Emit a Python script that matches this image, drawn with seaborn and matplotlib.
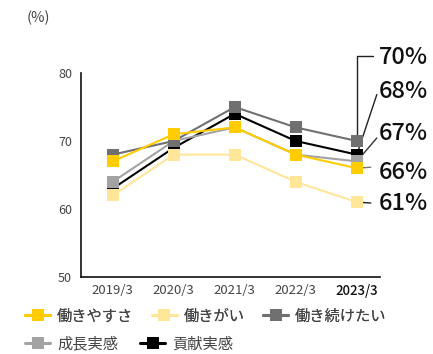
import matplotlib
matplotlib.use("Agg")
import matplotlib.pyplot as plt
import seaborn as sns
from matplotlib.lines import Line2D

sns.set_style("white")
plt.rcParams['font.family'] = ['Noto Sans CJK JP', 'DejaVu Sans']

years = ["2019/3", "2020/3", "2021/3", "2022/3", "2023/3"]
hatarakiyasusa = [67, 71, 72, 68, 66]
hatarakigai = [62, 68, 68, 64, 61]
hatarakitsuzuketai = [68, 70, 75, 72, 70]
seicho = [64, 70, 72, 68, 67]
koken = [63, 69, 74, 70, 68]
yticks = [50, 60, 70, 80]

names = ["働きやすさ", "働きがい", "働き続けたい", "成長実感", "貢献実感"]
colors = {"働きやすさ": "#FFCC00", "働きがい": "#FFE699", "働き続けたい": "#707070",
          "成長実感": "#A3A3A3", "貢献実感": "#000000"}
data = {"働きやすさ": hatarakiyasusa, "働きがい": hatarakigai, "働き続けたい": hatarakitsuzuketai,
        "成長実感": seicho, "貢献実感": koken}
draw_order = ["貢献実感", "成長実感", "働き続けたい", "働きやすさ", "働きがい"]

fig = plt.figure(figsize=(4.33, 3.54), dpi=100)
ax = fig.add_axes([81/433, 1-277/354, (380-81)/433, (277-73)/354])

for i, n in enumerate(draw_order):
    sns.lineplot(x=years, y=data[n], sort=False, color=colors[n], marker="s", markersize=8.5,
                 markeredgewidth=0, linewidth=1.5, ax=ax, zorder=3+i)

ax.set_xlim(-0.52, 4.38)
ax.set_ylim(50, 80)
ax.set_yticks(yticks)
ax.tick_params(axis="y", direction="in", length=11, width=1, color="#444444", pad=6.5,
               labelsize=9, labelcolor="#444444")
ax.tick_params(axis="x", length=0, pad=5, labelsize=9.5, labelcolor="#444444")
for lab in ax.get_xticklabels():
    if lab.get_text() == years[-1]:
        lab.set_color("#111111")
        lab.set_fontweight("medium")
for s in ["top", "right"]:
    ax.spines[s].set_visible(False)
for s in ["left", "bottom"]:
    ax.spines[s].set_color("#111111")
    ax.spines[s].set_linewidth(1.2)
ax.set_xlabel("")
ax.set_ylabel("")

fig.text(38/433, 1-18/354, "(%)", ha="center", va="center", fontsize=10.5, color="#444444")

# right-hand labels with leader lines (offsets in pixels -> points)
px = 0.72
last = len(years) - 1
labels = [
    ("働き続けたい", (16, 85), "angle,angleA=0,angleB=90,rad=0", "#222222", 84),
    ("貢献実感", (20, 60), "arc3", "#222222", 62.6),
    ("成長実感", (20, 23.4), "arc3", "#333333", 28.4),
    ("働きやすさ", (14, 1), "arc3", "#777777", -4),
    ("働きがい", (14, -0.8), "arc3", "#222222", -1),
]
for n, (dx, dy), cs, lc, ty in labels:
    v = data[n][last]
    ax.annotate("", xy=(last, v), xycoords="data", xytext=(dx*px, dy*px), textcoords="offset points",
                arrowprops=dict(arrowstyle="-", shrinkA=0, shrinkB=0, color=lc, lw=1,
                                connectionstyle=cs), zorder=1, annotation_clip=False)
    ax.annotate(f"{v}%", xy=(last, v), xycoords="data", xytext=(22*px, ty*px),
                textcoords="offset points", ha="left", va="center", fontsize=17,
                fontweight="medium", color="#111111", annotation_clip=False)

def handle(n):
    return Line2D([0], [0], color=colors[n], lw=2.2, marker="s", markersize=9, markeredgewidth=0)

row1 = names[:3]
row2 = names[3:]
leg1 = fig.legend([handle(n) for n in row1], row1, loc="center left",
                  bbox_to_anchor=(25/433, 1-316/354), ncol=3, frameon=False, fontsize=11,
                  handlelength=1.65, handletextpad=0.45, columnspacing=1.2, borderpad=0,
                  borderaxespad=0, labelcolor="#444444")
leg2 = fig.legend([handle(n) for n in row2], row2, loc="center left",
                  bbox_to_anchor=(25/433, 1-344/354), ncol=2, frameon=False, fontsize=11,
                  handlelength=1.65, handletextpad=0.45, columnspacing=1.45, borderpad=0,
                  borderaxespad=0, labelcolor="#444444")
fig.add_artist(leg1)

fig.savefig("out.png", dpi=100)
